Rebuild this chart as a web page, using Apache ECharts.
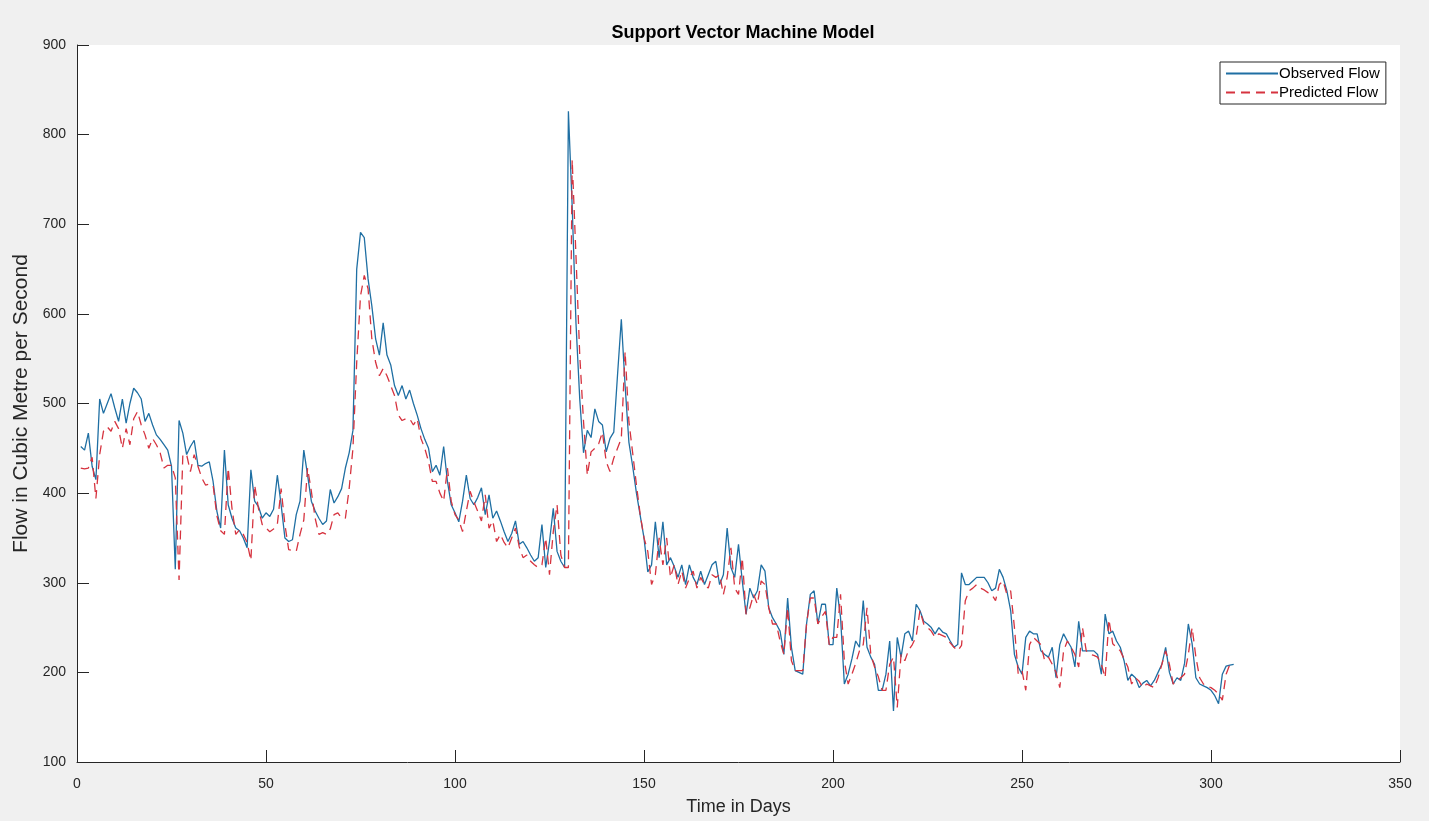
<!DOCTYPE html>
<html>
<head>
<meta charset="utf-8">
<title>Support Vector Machine Model</title>
<script src="https://cdn.jsdelivr.net/npm/echarts@6/dist/echarts.min.js"></script>
<style>
  html, body { margin: 0; padding: 0; background: #f0f0f0; }
  #main { width: 1429px; height: 821px; }
</style>
</head>
<body>
<div id="main"></div>
<script>
// daily flow, day 1..306
const observedFlow = [
  452, 448, 467, 430, 415, 505, 489, 500, 511, 495,
  480, 505, 478, 500, 517, 512, 505, 480, 489, 476,
  465, 460, 454, 448, 430, 315, 481, 467, 443, 452,
  459, 431, 430, 433, 435, 413, 380, 361, 448, 387,
  372, 361, 358, 350, 339, 426, 391, 385, 372, 378,
  374, 382, 420, 387, 350, 346, 348, 376, 391, 448,
  420, 391, 380, 372, 365, 369, 404, 389, 396, 405,
  428, 445, 470, 650, 691, 685, 639, 609, 572, 554,
  590, 554, 543, 520, 509, 520, 505, 515, 500, 487,
  472, 460, 450, 424, 431, 420, 452, 413, 387, 378,
  368, 391, 420, 394, 387, 395, 406, 376, 398, 372,
  380, 369, 357, 346, 355, 369, 343, 346, 339, 331,
  324, 328, 365, 317, 346, 383, 335, 324, 317, 826,
  720, 590, 505, 445, 470, 462, 494, 480, 476, 446,
  461, 468, 532, 594, 520, 457, 430, 400, 375, 350,
  312, 320, 368, 328, 368, 320, 328, 318, 306, 320,
  298, 320, 306, 298, 313, 298, 309, 320, 324, 298,
  309, 361, 317, 306, 343, 302, 265, 294, 283, 291,
  320, 313, 272, 261, 254, 246, 220, 283, 228, 202,
  200, 198, 254, 287, 291, 254, 276, 276, 231, 231,
  294, 261, 187, 198, 215, 235, 228, 280, 228, 217,
  209, 180, 180, 198, 235, 157, 239, 217, 243, 246,
  235, 276, 269, 257, 254, 250, 243, 250, 245, 243,
  235, 228, 231, 311, 298, 298, 302, 306, 306, 306,
  300, 291, 294, 315, 306, 291, 269, 220, 206, 198,
  239, 246, 243, 243, 224, 220, 217, 228, 194, 231,
  243, 235, 228, 206, 257, 224, 224, 224, 224, 220,
  198, 265, 243, 246, 235, 228, 213, 191, 198, 194,
  183, 188, 191, 185, 191, 200, 209, 228, 200, 187,
  194, 191, 210, 254, 232, 194, 187, 185, 183, 180,
  174, 165, 198, 207, 208, 209
];

const predictedFlow = [
  428, 427, 428, 440, 394, 443, 469, 474, 469, 480,
  472, 450, 472, 454, 483, 491, 476, 465, 450, 461,
  454, 445, 428, 431, 431, 417, 303, 443, 443, 424,
  443, 430, 417, 409, 410, 409, 375, 358, 354, 428,
  383, 354, 359, 354, 345, 325, 409, 383, 365, 361,
  357, 360, 365, 405, 365, 337, 336, 335, 354, 370,
  428, 402, 372, 354, 356, 354, 360, 376, 378, 372,
  372, 405, 450, 546, 620, 643, 628, 572, 546, 531,
  539, 531, 520, 509, 487, 481, 483, 483, 476, 483,
  461, 450, 435, 413, 413, 400, 391, 428, 391, 376,
  370, 357, 380, 402, 390, 380, 369, 398, 361, 369,
  346, 354, 345, 339, 350, 361, 340, 328, 331, 324,
  320, 317, 320, 350, 309, 357, 387, 331, 317, 317,
  772, 665, 554, 480, 420, 446, 450, 455, 468, 435,
  424, 439, 450, 461, 558, 480, 445, 409, 376, 350,
  335, 298, 309, 350, 320, 350, 306, 320, 298, 313,
  294, 305, 313, 294, 306, 298, 294, 309, 306, 309,
  287, 306, 339, 294, 287, 328, 265, 272, 287, 276,
  302, 298, 272, 254, 254, 235, 220, 272, 213, 202,
  202, 202, 254, 283, 283, 254, 262, 268, 231, 239,
  239, 287, 213, 187, 198, 210, 224, 231, 272, 220,
  206, 195, 180, 180, 209, 217, 161, 220, 213, 225,
  231, 240, 269, 254, 250, 246, 239, 243, 241, 239,
  233, 228, 224, 230, 280, 291, 294, 298, 294, 292,
  289, 287, 280, 298, 302, 287, 291, 250, 198, 202,
  180, 231, 239, 235, 231, 213, 217, 209, 200, 183,
  224, 235, 228, 220, 206, 250, 224, 220, 219, 217,
  209, 194, 259, 232, 228, 224, 215, 206, 187, 194,
  190, 183, 187, 185, 183, 194, 209, 224, 209, 187,
  190, 194, 198, 220, 250, 217, 194, 187, 184, 183,
  180, 176, 169, 198, 209, 207
];

const seriesNames = ['Observed Flow', 'Predicted Flow'];
const xTicks = [0, 50, 100, 150, 200, 250, 300, 350];
const yTicks = [100, 200, 300, 400, 500, 600, 700, 800, 900];

const chart = echarts.init(document.getElementById('main'));

const toPairs = arr => arr.map((v, i) => [i + 1, v]);
const axisColor = '#262626';
const font = 'Liberation Sans, Arial, Helvetica, sans-serif';

const option = {
    backgroundColor: '#f0f0f0',
    animation: false,
    title: {
        text: 'Support Vector Machine Model',
        left: 738,
        top: 19,
        textAlign: 'center',
        textStyle: { fontFamily: font, fontSize: 18, fontWeight: 'bold', color: '#000' }
    },
    legend: {
        orient: 'vertical',
        left: 1220,
        top: 62,
        data: seriesNames,
        backgroundColor: '#fff',
        borderColor: axisColor,
        borderWidth: 1,
        borderRadius: 0,
        padding: [4, 6, 4, 5],
        itemWidth: 52,
        itemHeight: 14,
        itemGap: 4,
        itemStyle: { opacity: 0 },
        textStyle: { fontFamily: font, fontSize: 15, color: '#000', padding: [0, 0, 0, -4] }
    },
    grid: {
        left: 77, right: 29, top: 45, bottom: 56,
        show: true, backgroundColor: '#fff', borderWidth: 0
    },
    xAxis: {
        type: 'value',
        min: xTicks[0],
        max: xTicks[xTicks.length - 1],
        interval: 50,
        name: 'Time in Days',
        nameLocation: 'middle',
        nameGap: 36,
        nameTextStyle: { fontFamily: font, fontSize: 18, color: axisColor },
        axisLine: { show: true, lineStyle: { color: axisColor, width: 1 } },
        axisTick: { show: true, inside: true, length: 12, lineStyle: { color: axisColor } },
        axisLabel: { fontFamily: font, fontSize: 14, color: axisColor, margin: 15 },
        splitLine: { show: false }
    },
    yAxis: {
        type: 'value',
        min: yTicks[0],
        max: yTicks[yTicks.length - 1],
        interval: 100,
        name: 'Flow in Cubic Metre per Second',
        nameLocation: 'middle',
        nameGap: 42,
        nameTextStyle: { fontFamily: font, fontSize: 21, color: axisColor },
        axisLine: { show: true, lineStyle: { color: axisColor, width: 1 } },
        axisTick: { show: true, inside: true, length: 12, lineStyle: { color: axisColor } },
        axisLabel: { fontFamily: font, fontSize: 14, color: axisColor, margin: 11 },
        splitLine: { show: false }
    },
    series: [
        {
            name: seriesNames[0],
            type: 'line',
            data: toPairs(observedFlow),
            symbol: 'none',
            lineStyle: { color: '#1f6fa3', width: 1.3 },
            itemStyle: { color: '#1f6fa3' },
            z: 2
        },
        {
            name: seriesNames[1],
            type: 'line',
            data: toPairs(predictedFlow),
            symbol: 'none',
            lineStyle: { color: '#d6333f', width: 1.3, type: [9, 6] },
            itemStyle: { color: '#d6333f' },
            z: 3
        }
    ]
};

chart.setOption(option);
</script>
</body>
</html>
